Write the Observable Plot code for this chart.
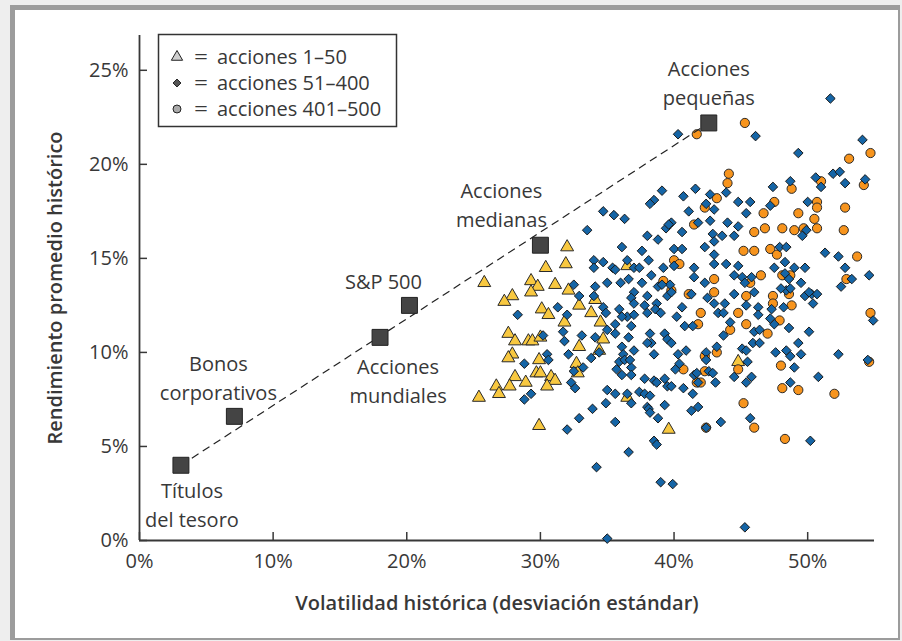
<!DOCTYPE html>
<html><head><meta charset="utf-8">
<script src="https://cdn.jsdelivr.net/npm/d3@7"></script>
<script src="https://cdn.jsdelivr.net/npm/@observablehq/plot@0.6"></script>
<style>
body{margin:0;background:#eeeeee;width:902px;height:641px;overflow:hidden;position:relative;font-family:'Open Sans',sans-serif}
#frame{position:absolute;left:10px;top:5px;width:890px;height:635px;box-sizing:border-box;border-style:solid;border-color:#9c9c9c;border-width:5px 2px 2px 5px;background:#fff}
#chart{position:absolute;left:0;top:0}
</style></head><body><div id="frame"></div><div id="chart"></div>
<script>
// Benchmarks (volatility %, average return %)
const benchNames = ["Títulos\ndel tesoro", "Bonos\ncorporativos", "Acciones\nmundiales", "S&P 500", "Acciones\nmedianas", "Acciones\npequeñas"];
const benchVol = [3.1, 7.1, 18.0, 20.2, 30.0, 42.6];
const benchRet = [4.0, 6.6, 10.8, 12.5, 15.7, 22.2];

// Ticks
const xTicks = [0, 10, 20, 30, 40, 50];
const yTicks = [0, 5, 10, 15, 20, 25];

// Legend labels
const legendLabels = ["acciones 1–50", "acciones 51–400", "acciones 401–500"];

// Stocks 1-50 (triangles): [volatility %, return %]
const stocks1to50 = [[32.0,15.6],[31.9,14.7],[30.4,14.5],[25.8,13.7],[29.3,13.8],[29.8,13.5],[31.1,13.6],[29.3,13.2],[27.9,13.0],[27.3,12.7],[32.1,13.3],[30.1,12.3],[30.6,12.0],[32.9,12.5],[33.8,12.1],[34.1,12.8],[36.5,14.6],[27.6,11.0],[28.1,10.6],[29.1,10.6],[29.4,10.6],[30.0,10.8],[31.8,11.6],[34.5,11.6],[34.7,10.7],[32.9,10.3],[34.4,10.1],[27.9,9.9],[27.6,9.7],[29.9,9.6],[32.7,9.4],[32.8,8.9],[29.7,8.9],[30.0,8.9],[28.1,8.7],[30.8,8.7],[31.1,8.5],[28.9,8.4],[26.7,8.2],[27.7,8.2],[30.5,8.2],[26.9,7.8],[25.4,7.6],[29.9,6.1],[36.5,7.6],[39.6,5.9],[44.8,9.5]];

// Stocks 51-400 (diamonds)
const stocks51to400 = [[51.7,23.5],[40.3,21.6],[46.1,21.5],[54.1,21.3],[49.3,20.6],[51.9,19.5],[52.4,19.6],[50.6,19.3],[48.7,19.1],[52.8,19.0],[54.3,19.2],[51.0,18.8],[47.4,18.8],[41.6,18.7],[39.1,18.6],[40.7,18.3],[42.7,18.4],[43.9,18.5],[38.5,18.1],[38.2,17.9],[42.4,17.9],[44.8,18.0],[45.7,18.0],[47.2,17.8],[50.0,18.0],[41.1,17.5],[43.0,17.6],[45.4,17.4],[34.7,17.5],[35.5,17.3],[36.3,17.1],[39.8,16.9],[39.4,16.6],[41.8,16.9],[42.7,17.0],[44.0,16.9],[33.5,16.5],[40.6,16.4],[44.8,16.7],[42.9,16.3],[43.6,16.2],[44.5,16.2],[49.9,16.5],[49.6,16.2],[38.0,16.2],[38.8,16.0],[43.0,15.9],[36.1,15.6],[37.6,15.4],[40.0,15.5],[40.6,15.5],[42.3,15.6],[43.0,15.2],[47.9,15.6],[48.4,15.6],[51.3,15.3],[52.3,15.1],[34.0,14.9],[34.7,14.8],[34.0,14.5],[35.4,14.5],[36.5,14.9],[37.0,14.5],[37.4,14.5],[38.1,14.9],[39.2,14.5],[40.0,14.6],[41.5,14.5],[43.0,14.7],[43.9,14.7],[44.8,14.6],[44.5,14.1],[47.5,14.5],[48.3,14.8],[49.8,14.5],[49.0,14.5],[52.8,14.5],[54.6,14.1],[53.3,13.9],[52.5,13.5],[35.0,13.7],[36.0,13.7],[37.0,13.2],[38.3,14.1],[38.8,13.5],[39.7,13.6],[41.5,14.0],[42.3,13.7],[45.1,14.0],[45.3,13.7],[45.8,14.0],[48.3,14.2],[49.5,13.7],[49.8,13.0],[50.3,13.1],[50.7,13.1],[50.4,12.6],[32.5,13.6],[32.9,13.0],[34.1,13.5],[34.0,13.0],[34.7,12.4],[35.9,12.3],[36.8,12.9],[37.0,12.6],[37.8,12.5],[38.7,12.6],[39.5,13.0],[40.6,12.4],[41.3,13.1],[42.5,12.9],[43.0,12.6],[43.8,12.6],[44.5,13.1],[45.4,12.5],[46.0,13.2],[46.3,12.4],[47.3,12.3],[48.2,12.4],[48.4,13.3],[31.3,12.4],[32.0,12.0],[28.3,12.0],[34.9,12.1],[39.1,13.6],[37.6,13.7],[38.6,12.3],[39.8,13.2],[38.0,13.0],[48.6,13.9],[48.7,13.4],[48.0,13.4],[50.1,13.2],[39.6,16.8],[35.6,14.4],[36.6,13.9],
[30.2,10.9],[31.7,11.1],[31.8,10.6],[33.1,10.9],[34.1,10.8],[34.4,10.0],[30.5,9.9],[30.6,9.6],[32.1,9.9],[33.2,9.2],[32.5,9.0],[28.8,9.4],[32.3,8.4],[32.6,8.1],[29.3,7.8],[28.8,7.5],[33.8,9.7],[35.0,11.2],[35.6,11.5],[36.8,11.4],[36.6,10.8],[36.1,10.3],[37.0,10.1],[36.2,9.9],[35.9,9.5],[35.7,9.1],[36.1,8.8],[36.8,9.2],[36.8,8.8],[38.2,11.0],[38.3,10.5],[38.0,10.5],[38.5,9.9],[39.3,11.0],[39.5,10.7],[37.8,8.6],[38.5,8.5],[38.7,8.4],[37.4,7.9],[37.8,7.8],[38.2,7.7],[39.3,8.6],[39.5,8.2],[39.8,8.2],[35.0,8.0],[35.6,7.8],[36.5,7.8],[36.8,7.3],[34.9,7.3],[33.9,7.0],[32.9,6.5],[32.0,5.9],[35.6,6.3],[38.0,7.1],[38.1,7.0],[38.2,6.8],[38.8,6.5],[39.3,7.2],[40.3,9.9],[40.9,10.1],[40.4,9.4],[40.1,9.1],[40.7,8.1],[41.4,7.8],[41.5,8.8],[41.8,8.4],[41.7,8.9],[41.3,6.9],[41.8,7.1],[40.8,11.4],[41.4,11.4],[42.4,10.0],[42.4,9.6],[42.6,9.0],[42.9,8.9],[43.1,8.4],[42.4,6.0],[43.5,6.3],[43.7,10.9],[43.2,10.3],[44.2,11.6],[45.1,10.2],[45.4,10.1],[45.5,9.5],[44.5,8.7],[45.4,8.4],[45.8,8.7],[45.7,6.5],[45.3,0.7],[46.0,11.1],[46.4,11.2],[47.5,11.5],[45.9,10.5],[46.4,10.5],[47.6,10.0],[48.4,10.1],[48.7,9.8],[48.6,11.3],[49.3,10.5],[49.5,9.9],[49.0,9.2],[48.7,8.4],[50.1,11.1],[50.8,8.7],[52.3,9.9],[54.5,9.6],[54.9,11.7],[50.2,5.3],[34.2,3.9],[36.6,4.7],[39.0,3.1],[39.9,3.0],[35.0,0.1],[38.5,5.3],[38.7,5.1],[40.2,11.9],[43.3,12.1],[43.7,12.1],[46.3,12.0],[47.2,11.8],[39.8,10.5],[36.5,11.9],[37.0,12.0],[35.6,11.0],[36.1,11.9],[38.0,12.1],[39.0,12.1],[36.3,9.6],[36.7,9.6]];

// Stocks 401-500 (circles)
const stocks401to500 = [[45.3,22.2],[41.7,21.6],[54.7,20.6],[53.1,20.3],[44.1,19.5],[44.0,19.0],[51.0,19.1],[48.8,18.7],[54.2,18.9],[43.2,18.2],[42.3,17.7],[47.5,18.0],[50.7,18.0],[50.7,17.7],[52.8,17.7],[46.7,17.4],[49.3,17.4],[50.5,17.1],[41.5,16.8],[46.0,16.4],[46.8,16.6],[48.1,16.6],[49.0,16.5],[49.7,16.6],[50.7,16.6],[52.7,16.5],[45.2,15.4],[46.0,15.4],[47.2,15.5],[47.7,15.2],[53.7,15.1],[40.0,14.9],[40.4,14.7],[52.9,13.9],[43.0,13.9],[39.2,13.8],[46.5,14.1],[48.1,14.1],[48.7,14.1],[45.7,13.7],[45.4,13.0],[47.4,13.0],[48.6,13.1],[48.8,12.5],[47.4,12.6],[54.7,12.1],[43.0,13.2],[41.1,13.1],[39.8,13.3],[44.8,12.1],[42.0,12.1],[41.8,11.5],[44.2,11.2],[45.4,11.5],[47.0,11.0],[47.9,11.7],[43.2,10.0],[42.3,9.8],[40.7,9.1],[42.3,9.0],[41.7,8.4],[42.0,8.4],[44.8,9.1],[48.0,9.3],[48.1,8.1],[49.3,8.0],[52.0,7.8],[45.2,7.3],[46.0,6.0],[42.4,6.0],[48.3,5.4],[54.6,9.5]];

const ink = "#383838";
const benchIdx = benchVol.map((_, i) => i);
const labelOffsets = [[11, 38], [-16, -40], [18, 42], [-26, -26], [-39, -42], [0, -42]];

const plot = Plot.plot({
  width: 902, height: 641,
  marginLeft: 139, marginRight: 28, marginTop: 35, marginBottom: 101,
  style: {background: "transparent", fontFamily: "'Open Sans', sans-serif", fontSize: "20px", color: ink, overflow: "visible"},
  x: {domain: [0, 55]},
  y: {domain: [0, 26.85]},
  marks: [
    Plot.axisX(xTicks, {tickSize: 0, tickPadding: 13, tickFormat: d => d + "%", fontSize: 20, color: ink, label: null}),
    Plot.axisY(yTicks, {tickSize: 0, tickPadding: 11, tickFormat: d => d + "%", fontSize: 20, color: ink, label: null}),
    Plot.tickX(xTicks, {x: d => d, insetTop: 497, stroke: ink, strokeWidth: 1.5}),
    Plot.tickY(yTicks, {y: d => d, insetRight: 727, stroke: ink, strokeWidth: 1.5}),
    Plot.ruleX([0], {stroke: ink, strokeWidth: 1.8}),
    Plot.ruleY([0], {stroke: ink, strokeWidth: 1.8}),
    Plot.text(["Volatilidad histórica (desviación estándar)"], {frameAnchor: "bottom", textAnchor: "middle", lineAnchor: "middle", dy: 63, dx: -10, fontSize: 20, fontWeight: 600, fill: ink}),
    Plot.text(["Rendimiento promedio histórico"], {frameAnchor: "left", textAnchor: "middle", lineAnchor: "middle", dx: -84, rotate: -90, fontSize: 20, fontWeight: 600, fill: ink}),
    Plot.dot(stocks1to50, {x: d => d[0], y: d => d[1], symbol: "triangle", r: 4.8, fill: "#F8C840", stroke: "#2a2a2a", strokeWidth: 1}),
    Plot.dot(stocks401to500, {x: d => d[0], y: d => d[1], symbol: "circle", r: 4.6, fill: "#F7941D", stroke: "#2a2a2a", strokeWidth: 1}),
    Plot.dot(stocks51to400, {x: d => d[0], y: d => d[1], symbol: "diamond2", r: 4.3, fill: "#1565A6", stroke: "#1a1a1a", strokeWidth: 1}),
    Plot.link([0], {x1: () => benchVol[0], y1: () => benchRet[0], x2: () => benchVol[5], y2: () => benchRet[5], stroke: "#222", strokeWidth: 1.2, strokeDasharray: "8,5"}),
    Plot.dot(benchIdx, {x: i => benchVol[i], y: i => benchRet[i], symbol: "square", r: 9, fill: "#444", stroke: "#222", strokeWidth: 1}),
    ...labelOffsets.map(([dx, dy], k) => Plot.text([k], {x: i => benchVol[i], y: i => benchRet[i], text: i => benchNames[i], dx, dy, lineHeight: 1.45, fontSize: 20, fill: ink}))
  ]
});

// Legend box
const svg = d3.select(plot);
const lg = svg.append("g").attr("font-family", "'Open Sans', sans-serif").attr("font-size", 20).attr("fill", ink);
lg.append("rect").attr("x", 158.5).attr("y", 34.5).attr("width", 238).attr("height", 92)
  .attr("fill", "white").attr("stroke", "#333").attr("stroke-width", 1.5);
const legendSymbols = [d3.symbol(d3.symbolTriangle, 55), d3.symbol(d3.symbolDiamond2, 40), d3.symbol(d3.symbolCircle, 50)];
const legendFills = ["#cfcfcf", "#555", "#aaa"];
legendLabels.forEach((lab, i) => {
  const cy = 57 + i * 26;
  lg.append("path").attr("d", legendSymbols[i]()).attr("transform", `translate(177,${cy})`)
    .attr("fill", legendFills[i]).attr("stroke", "#222").attr("stroke-width", 1);
  lg.append("text").attr("x", 194).attr("y", cy + 7).attr("text-anchor", "start")
    .attr("textLength", 14).attr("lengthAdjust", "spacingAndGlyphs").text("=");
  lg.append("text").attr("x", 217).attr("y", cy + 7).attr("text-anchor", "start").text(lab);
});

document.getElementById("chart").appendChild(plot);
</script></body></html>
